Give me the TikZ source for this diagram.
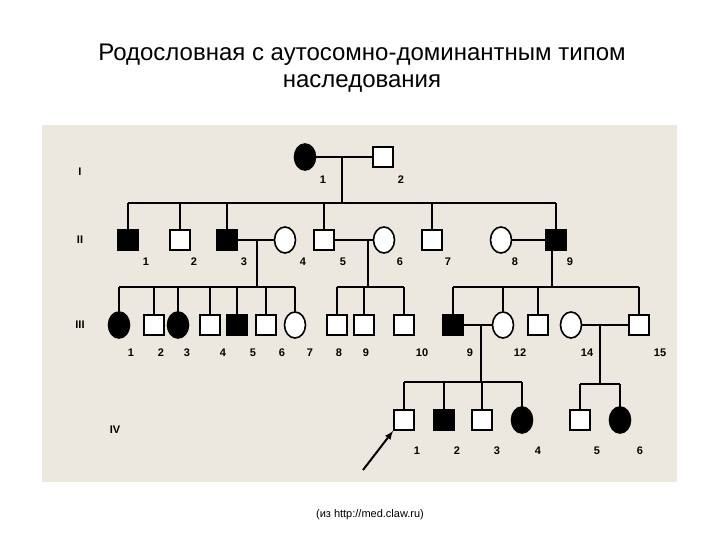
\documentclass[tikz,border=0pt]{standalone}
\usepackage{fontspec}
\setmainfont{Liberation Sans}
\usetikzlibrary{shapes.geometric}
\begin{document}
\begin{tikzpicture}[x=1pt,y=-1pt,
 sq/.style={draw,line width=1.6pt,minimum size=20pt,inner sep=0pt,fill=white},
 fsq/.style={sq,fill=black},
 ci/.style={draw,line width=1.6pt,ellipse,minimum width=21pt,minimum height=26pt,inner sep=0pt,fill=white},
 fci/.style={ci,fill=black},
 ln/.style={line width=2pt},
 num/.style={font=\bfseries\fontsize{11}{12}\selectfont},
 gen/.style={font=\bfseries\fontsize{11}{12}\selectfont}]
\useasboundingbox (0,0) rectangle (720,540);
\fill[white] (0,0) rectangle (720,540);
\fill[fill={rgb,255:red,236;green,231;blue,223}] (42,125) rectangle (677,482);
\node at (362,55) {\fontsize{24}{28}\selectfont Родословная с аутосомно-доминантным типом};
\node at (362,83) {\fontsize{24}{28}\selectfont наследования};
\node at (370,515) {\fontsize{11}{12}\selectfont (из http://med.claw.ru)};
% generation labels
\node[gen] (gI) at (80,172) {I};
\node[gen] (gII) at (80,240) {II};
\node[gen] (gIII) at (80,325) {III};
\node[gen] (gIV) at (115,430) {IV};
% coordinates of lines
\coordinate (m1) at (342,157); \coordinate (s1) at (342,203);
\coordinate (m2) at (257,240); \coordinate (s2) at (257,287);
\coordinate (m3) at (368,240); \coordinate (s3) at (368,287);
\coordinate (m4) at (552,240); \coordinate (s4) at (552,287);
\coordinate (m5) at (481,325); \coordinate (s5) at (481,382);
\coordinate (m6) at (600,325); \coordinate (s6) at (600,384);
% sib lines
\draw[ln] (m1)--(s1);
\draw[ln] (128,203)--(556,203);
\foreach \x in {128,180,227,324,432,556} \draw[ln] (\x,203)--(\x,240);
\draw[ln] (m2)--(s2); \draw[ln] (119,287)--(295,287);
\foreach \x in {119,154,178,210,237,266,295} \draw[ln] (\x,287)--(\x,325);
\draw[ln] (m3)--(s3); \draw[ln] (337,287)--(404,287);
\foreach \x in {337,364,404} \draw[ln] (\x,287)--(\x,325);
\draw[ln] (m4)--(s4); \draw[ln] (453,287)--(639,287);
\foreach \x in {453,503,538,639} \draw[ln] (\x,287)--(\x,325);
\draw[ln] (m5)--(s5); \draw[ln] (404,382)--(522,382);
\foreach \x in {404,444,482,522} \draw[ln] (\x,382)--(\x,420);
\draw[ln] (m6)--(s6); \draw[ln] (580,384)--(620,384);
\foreach \x in {580,620} \draw[ln] (\x,384)--(\x,420);
% Gen I
\node[fci] (I1) at (305,157) {};
\node[sq] (I2) at (383,157) {};
\draw[ln] (I1)--(I2);
\node[num] at (323,180) {1}; \node[num] at (401,180) {2};
% Gen II
\node[fsq] (II1) at (128,240) {};
\node[sq] (II2) at (180,240) {};
\node[fsq] (II3) at (227,240) {};
\node[ci] (II4) at (285,240) {};
\node[sq] (II5) at (324,240) {};
\node[ci] (II6) at (384,240) {};
\node[sq] (II7) at (432,240) {};
\node[ci] (II8) at (501,240) {};
\node[fsq] (II9) at (556,240) {};
\draw[ln] (II3)--(II4); \draw[ln] (II5)--(II6); \draw[ln] (II8)--(II9);
\foreach \x/\t in {146/1,194/2,244/3,303/4,343/5,400/6,448/7,515/8,570/9} \node[num] at (\x,262) {\t};
% Gen III
\node[fci] (III1) at (119,325) {};
\node[sq] (III2) at (154,325) {};
\node[fci] (III3) at (178,325) {};
\node[sq] (III4) at (210,325) {};
\node[fsq] (III5) at (237,325) {};
\node[sq] (III6) at (266,325) {};
\node[ci] (III7) at (295,325) {};
\node[sq] (III8) at (337,325) {};
\node[sq] (III9) at (364,325) {};
\node[sq] (III10) at (404,325) {};
\node[fsq] (III11) at (453,325) {};
\node[ci] (III12) at (503,325) {};
\node[sq] (III13) at (538,325) {};
\node[ci] (III14) at (571,325) {};
\node[sq] (III15) at (639,325) {};
\draw[ln] (III11)--(III12); \draw[ln] (III14)--(III15);
\foreach \x/\t in {131/1,161/2,187/3,223/4,253/5,282/6,310/7,339/8,366/9,422/10,470/9,520/12,587/14,660/15} \node[num] at (\x,353) {\t};
% Gen IV
\node[sq] (IV1) at (404,420) {};
\node[fsq] (IV2) at (444,420) {};
\node[sq] (IV3) at (482,420) {};
\node[fci] (IV4) at (522,420) {};
\node[sq] (IV5) at (580,420) {};
\node[fci] (IV6) at (620,420) {};
\foreach \x/\t in {417/1,457/2,497/3,538/4,597/5,640/6} \node[num] at (\x,451) {\t};
\coordinate (arr) at (363,470);
\draw[ln,-latex] (arr)--(IV1.south west);
\end{tikzpicture}
\end{document}
